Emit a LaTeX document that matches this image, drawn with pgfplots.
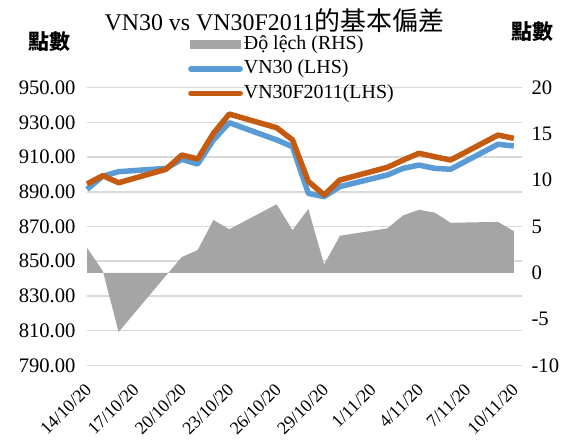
\documentclass[border=0pt]{standalone}
\usepackage{fontspec}
\setmainfont{Liberation Serif}
\newfontfamily\cjk{Noto Sans CJK TC}
\usepackage{pgfplots}
\usepackage{pgfplotstable}
\pgfplotsset{compat=1.18}
\definecolor{vnblue}{RGB}{91,155,213}
\definecolor{vnorange}{RGB}{197,90,17}
\definecolor{areagray}{RGB}{165,165,165}
\definecolor{gridgray}{RGB}{217,217,217}

\pgfplotstableread{
day vn30 vn30f diff
0  891.4 894.5 2.7
1  899.0 899.3 0.2
2  901.6 895.2 -6.4
5  903.5 903.0 -0.3
6  908.7 911.2 1.7
7  906.0 908.9 2.45
8  919.9 923.7 5.7
9  929.8 934.8 4.7
12 919.9 926.9 7.4
13 916.0 919.9 4.6
14 889.1 896.0 6.9
15 887.2 888.2 0.9
16 893.0 896.8 4.0
19 899.7 904.1 4.8
20 903.5 908.3 6.2
21 905.4 912.2 6.8
22 903.5 910.2 6.5
23 903.0 908.3 5.4
26 917.4 922.7 5.5
27 916.4 920.8 4.5
}\data

\pgfplotsset{
  base/.style={
    scale only axis, width=434.7bp, height=277.6bp,
    at={(0,0)}, anchor=south west,
    xmin=0, xmax=27.5,
    axis line style={draw=none},
    major tick length=0pt,
    /pgf/number format/assume math mode=true,
    clip=false,
  },
}

\begin{document}
\begin{tikzpicture}
\path[use as bounding box] (-87bp,-75.7bp) rectangle (487bp,365.3bp);

% left axis: grid, ticks, x labels
\begin{axis}[base,
  ymin=790, ymax=950, ytick={790,810,...,950},
  ymajorgrids, grid style={gridgray, line width=1.5bp},
  yticklabel style={font=\fontsize{20.7}{24}\selectfont, xshift=-8bp,
    /pgf/number format/.cd, fixed, fixed zerofill, precision=2},
  xtick={0,3,...,27},
  xticklabels={14/10/20,17/10/20,20/10/20,23/10/20,26/10/20,29/10/20,1/11/20,4/11/20,7/11/20,10/11/20},
  xticklabel style={xshift=-3bp, yshift=-12bp, rotate=45, anchor=north east, font=\fontsize{18}{20}\selectfont},
]
\end{axis}

% right axis: area
\begin{axis}[base,
  ymin=-10, ymax=20, ytick={-10,-5,...,20},
  axis y line*=right, hide x axis,
  yticklabel style={font=\fontsize{20.7}{24}\selectfont, xshift=6.4bp},
]
\addplot[fill=areagray, draw=none] table[x=day,y=diff]{\data} \closedcycle;
\end{axis}

% left scale again: lines + legend
\begin{axis}[base,
  ymin=790, ymax=950, hide axis,
  legend style={draw=none, fill=none, at={(0.2323,1.193)}, anchor=north west,
    font=\fontsize{20}{22}\selectfont, inner sep=0pt, row sep=4.5bp,
    nodes={inner sep=1bp, text height=14bp, text depth=4bp}},
  legend cell align=left,
]
\addlegendimage{legend image code/.code={\fill[areagray] (2bp,-4.2bp) rectangle (52bp,4.2bp);}}
\addlegendentry{Độ lệch (RHS)}
\addplot[vnblue, line width=5.5bp, line join=round,
  legend image code/.code={\draw[vnblue, line width=5.5bp, line cap=round] (2.75bp,0bp) -- (52bp,0bp);}]
  table[x=day,y=vn30]{\data};
\addlegendentry{VN30 (LHS)}
\addplot[vnorange, line width=5.5bp, line join=round,
  legend image code/.code={\draw[vnorange, line width=5.5bp, line cap=round] (2.75bp,0bp) -- (52bp,0bp);}]
  table[x=day,y=vn30f]{\data};
\addlegendentry{VN30F2011(LHS)}
\end{axis}

\node[anchor=base, font=\fontsize{24}{28}\selectfont] at (187.5bp,334.3bp)
  {VN30 vs VN30F2011{\cjk\fontsize{26}{28}\selectfont 的基本偏差}};
\node[font=\cjk\bfseries\fontsize{21}{24}\selectfont] at (-37.5bp,323.3bp) {點數};
\node[font=\cjk\bfseries\fontsize{21}{24}\selectfont] at (445bp,334bp) {點數};
\end{tikzpicture}
\end{document}
